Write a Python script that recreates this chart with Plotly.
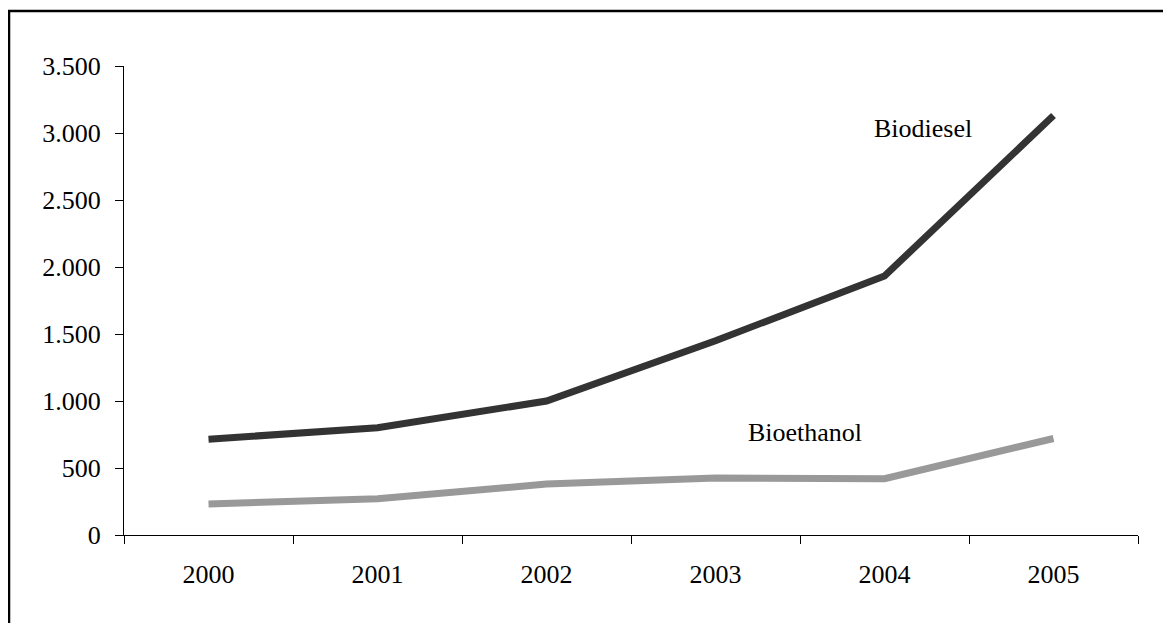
import plotly.graph_objects as go

years = ["2000", "2001", "2002", "2003", "2004", "2005"]
biodiesel = [715, 800, 1000, 1450, 1933, 3130]
bioethanol = [232, 270, 380, 425, 420, 720]
y_ticks = [0, 500, 1000, 1500, 2000, 2500, 3000, 3500]

FONT = "Liberation Serif, Times New Roman, serif"

fig = go.Figure()
fig.add_trace(go.Scatter(x=years, y=biodiesel, mode="lines", name="Biodiesel",
                         line=dict(color="#333333", width=7)))
fig.add_trace(go.Scatter(x=years, y=bioethanol, mode="lines", name="Bioethanol",
                         line=dict(color="#999999", width=7)))

fig.add_annotation(x=4.23, y=3037, text="Biodiesel", showarrow=False,
                   font=dict(family=FONT, size=26, color="black"))
fig.add_annotation(x=3.53, y=765, text="Bioethanol", showarrow=False,
                   font=dict(family=FONT, size=26, color="black"))

# outer frame (only top and left visible in the reference)
fig.add_shape(type="rect", xref="paper", yref="paper",
              x0=-0.1134, x1=1.06, y0=-0.25, y1=1.1173,
              line=dict(color="black", width=2.5), fillcolor="rgba(0,0,0,0)")

fig.update_layout(
    width=1171, height=623,
    margin=dict(l=116, r=41, t=58, b=96),
    paper_bgcolor="white", plot_bgcolor="white",
    showlegend=False,
    separators=",.",
    font=dict(family=FONT, size=26, color="black"),
    xaxis=dict(type="category", range=[-0.5, 5.5], showgrid=False,
               showline=True, linecolor="black", linewidth=1,
               ticks="outside", tickson="boundaries", ticklen=8,
               tickcolor="black", tickwidth=1, ticklabelstandoff=16,
               tickfont=dict(family=FONT, size=26), zeroline=False),
    yaxis=dict(range=[0, 3500], tickvals=y_ticks, tickformat=",",
               showgrid=False, showline=True, linecolor="black", linewidth=1,
               ticks="outside", ticklen=8, tickcolor="black", tickwidth=1,
               ticklabelstandoff=9,
               tickfont=dict(family=FONT, size=26), zeroline=False),
)

fig.write_html("out.html")
